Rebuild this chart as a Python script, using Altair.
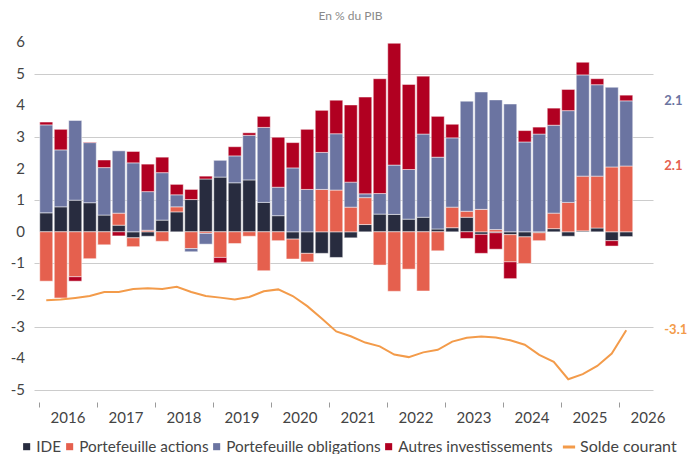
import altair as alt
import pandas as pd

# Quarterly data, 2016T1 .. 2026T1 (41 quarters), % of GDP
quarters = [f"{2016 + i // 4}T{i % 4 + 1}" for i in range(41)]

ide = [0.60, 0.79, 1.00, 0.92, 0.53, 0.21, -0.19, -0.14, 0.37, 0.63,
       1.02, 1.67, 1.73, 1.55, 1.64, 0.93, 0.51, -0.23, -0.68, -0.68,
       -0.81, -0.19, 0.23, 0.56, 0.55, 0.40, 0.46, 0.09, 0.13, 0.46,
       -0.08, -0.03, -0.09, -0.16, -0.03, 0.10, -0.14, 0.03, 0.12, -0.28,
       -0.15]
actions = [-1.56, -2.09, -1.42, -0.85, -0.41, 0.38, -0.28, 0.05, -0.30, 0.16,
           -0.53, -0.05, -0.81, -0.37, -0.14, -1.23, -0.28, -0.63, -0.27, 1.34,
           1.32, 0.78, 0.85, -1.05, -1.88, -1.18, -1.87, -0.60, 0.65, 0.19,
           0.71, 0.07, -0.86, -0.84, -0.25, 0.49, 0.93, 1.73, 1.64, 2.05,
           2.08]
obligations = [2.78, 1.80, 2.52, 1.90, 1.50, 1.97, 2.18, 1.22, 1.50, 0.38,
               -0.10, -0.34, 0.53, 0.85, 1.41, 2.37, 0.90, 2.02, 1.34, 1.17,
               1.78, 0.79, 0.12, 0.65, 1.56, 1.57, 2.63, 2.27, 2.19, 3.48,
               3.71, 4.10, 4.04, 2.84, 3.09, 2.78, 2.90, 3.20, 2.89, 2.52,
               2.06]
autres = [0.09, 0.65, -0.14, 0.02, 0.24, -0.13, 0.36, 0.87, 0.49, 0.33,
          0.32, 0.09, -0.17, 0.29, 0.08, 0.35, 1.58, 0.80, 1.90, 1.33,
          1.06, 2.44, 3.06, 3.63, 3.85, 2.69, 1.83, 1.29, 0.43, -0.21,
          -0.60, -0.52, -0.53, 0.36, 0.22, 0.54, 0.67, 0.40, 0.19, -0.17,
          0.18]
solde = [-2.16, -2.14, -2.09, -2.03, -1.90, -1.90, -1.81, -1.78, -1.81, -1.74,
         -1.90, -2.03, -2.08, -2.14, -2.06, -1.88, -1.82, -2.03, -2.35, -2.74,
         -3.15, -3.30, -3.50, -3.62, -3.88, -3.96, -3.81, -3.73, -3.47, -3.35,
         -3.31, -3.34, -3.43, -3.57, -3.89, -4.11, -4.66, -4.50, -4.24, -3.85,
         -3.11]

series_names = ["IDE", "Portefeuille actions", "Portefeuille obligations",
                "Autres investissements"]
series_colors = ["#282c3f", "#e5604e", "#6b74a1", "#b10021"]
line_name = "Solde courant"
line_color = "#f39b4a"

end_texts = ["2.1", "2.1", "-3.1"]
end_colors = ["#6b74a1", "#e5604e", "#f39b4a"]

year_labels = ["2016", "2017", "2018", "2019", "2020", "2021", "2022", "2023",
               "2024", "2025", "2026"]
y_ticks = [-5, -4, -3, -2, -1, 0, 1, 2, 3, 4, 5, 6]

FONT = "Lato"
H = 348

rows = []
for k, (name, vals) in enumerate(zip(series_names, [ide, actions, obligations, autres])):
    for i, v in enumerate(vals):
        rows.append({"q": quarters[i], "x": i + 0.5, "serie": name, "v": v, "ord": k})
bars_df = pd.DataFrame(rows)

line_df = pd.DataFrame({"q": quarters, "x": [i + 0.5 for i in range(len(solde))],
                        "v": solde, "nom": line_name})

last = len(solde) - 1
pos = lambda a: max(a[last], 0)
end_vals = [pos(ide) + pos(actions) + pos(obligations),
            pos(ide) + pos(actions),
            solde[last]]
end_df = pd.DataFrame({"x": [last + 0.5] * 3, "v": end_vals, "t": end_texts})

year_df = pd.DataFrame({"x": [4 * k + 2 for k in range(len(year_labels))], "t": year_labels})
ytick_df = pd.DataFrame({"v": y_ticks, "t": [str(v) for v in y_ticks]})

xscale = alt.Scale(domain=[0, 42], nice=False, zero=False)
yscale = alt.Scale(domain=[-5, 6], nice=False)

x_axis = alt.Axis(
    values=list(range(0, 41, 4)), labels=False,
    grid=False, domain=False, offset=12, tickSize=5, tickColor="#9a9a9a", title=None,
)
y_axis = alt.Axis(
    values=y_ticks, grid=True, gridColor="#cccccc", domain=False,
    ticks=False, labels=False, title=None,
)

bars = alt.Chart(bars_df).mark_bar(size=13, stroke="white", strokeWidth=0.8,
                                    strokeOpacity=0.6).encode(
    x=alt.X("x:Q", scale=xscale, axis=x_axis),
    y=alt.Y("v:Q", stack="zero", scale=yscale, axis=y_axis),
    color=alt.Color("serie:N", scale=alt.Scale(domain=series_names, range=series_colors),
                    legend=alt.Legend(orient="none", legendX=-15, legendY=397,
                                      direction="horizontal", title=None,
                                      symbolType="square", symbolSize=50,
                                      symbolStrokeWidth=0, labelFontSize=15.3,
                                      labelFont=FONT, labelColor="#444444",
                                      labelLimit=400, labelOffset=2, columnPadding=0)),
    order=alt.Order("ord:Q"),
)

line = alt.Chart(line_df).mark_line(strokeWidth=2).encode(
    x=alt.X("x:Q", scale=xscale),
    y=alt.Y("v:Q", scale=yscale),
    stroke=alt.Stroke("nom:N", scale=alt.Scale(domain=[line_name], range=[line_color]),
                      legend=alt.Legend(orient="none", legendX=527, legendY=397,
                                        title=None, symbolType="stroke",
                                        symbolSize=150, symbolStrokeWidth=3,
                                        labelFontSize=16, labelFont=FONT,
                                        labelLimit=400, labelColor="#444444",
                                        labelOffset=3)),
)

year_text = alt.Chart(year_df).mark_text(align="center", baseline="middle", fontSize=15,
                                         font=FONT, color="#444444").encode(
    x=alt.X("x:Q", scale=xscale), y=alt.value(H + 28), text="t:N")

ytick_text = alt.Chart(ytick_df).mark_text(align="right", baseline="middle", fontSize=15,
                                           font=FONT, color="#444444").encode(
    x=alt.value(-9), y=alt.Y("v:Q", scale=yscale), text="t:N")

labels = []
for j in range(len(end_texts)):
    labels.append(
        alt.Chart(end_df.iloc[[j]]).mark_text(align="left", baseline="middle", dx=38,
                                              fontSize=13, fontWeight="bold", font=FONT,
                                              color=end_colors[j]).encode(
            x=alt.X("x:Q", scale=xscale),
            y=alt.Y("v:Q", scale=yscale), text="t:N")
    )

chart = alt.layer(bars, line, year_text, ytick_text, *labels).properties(
    width=619, height=H,
    title=alt.TitleParams("En % du PIB", fontSize=12, color="#8a8a8a", font=FONT,
                          fontWeight="normal", anchor="middle", dx=7, offset=12),
    autosize=alt.AutoSizeParams(type="none"),
    padding={"left": 26, "top": 34, "right": 38, "bottom": 64},
).configure_view(stroke=None)

chart.save("out.html", embed_options={"renderer": "svg", "actions": False})
